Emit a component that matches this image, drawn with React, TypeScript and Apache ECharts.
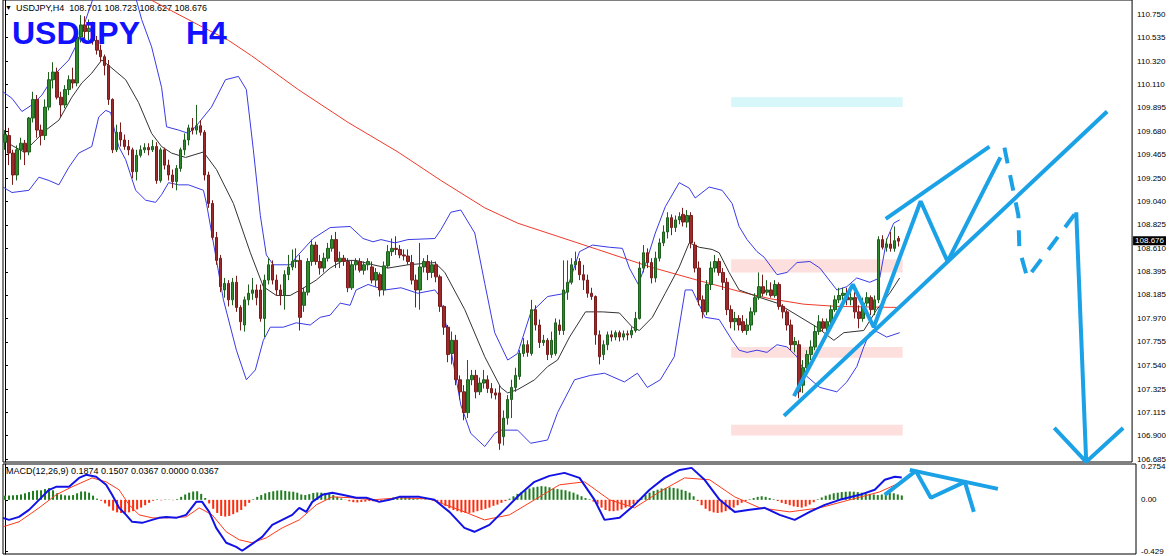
import React, { useEffect, useRef } from "react";
import * as echarts from "echarts";

// ---------- DATA ----------
const symbolName = "USDJPY";
const timeframe = "H4";
// [open, close, low, high]
const candles: number[][] = [
[109.58,109.65,109.51,109.69],[109.64,109.48,109.37,109.71],[109.48,109.28,109.19,109.51],[109.28,109.51,109.23,109.55],
[109.51,109.57,109.42,109.62],[109.57,109.49,109.37,109.60],[109.49,109.80,109.46,109.81],[109.80,109.97,109.76,110.04],
[109.97,109.69,109.62,110.01],[109.69,109.64,109.55,109.74],[109.64,109.90,109.60,109.97],[109.90,110.15,109.87,110.22],
[110.15,110.22,110.07,110.31],[110.22,109.99,109.97,110.26],[109.99,109.92,109.81,110.04],[109.92,110.06,109.89,110.10],
[110.06,110.15,110.01,110.19],[110.15,110.12,110.07,110.26],[110.12,110.54,110.09,110.60],[110.54,110.65,110.49,110.74],
[110.65,110.59,110.53,110.73],[110.59,110.62,110.51,110.70],[110.62,110.51,110.47,110.68],[110.51,110.42,110.38,110.55],
[110.42,110.36,110.31,110.47],[110.36,110.28,110.19,110.38],[110.28,109.97,109.92,110.33],[109.97,109.51,109.48,109.98],
[109.51,109.67,109.49,109.74],[109.67,109.60,109.54,109.76],[109.60,109.54,109.51,109.65],[109.54,109.51,109.46,109.60],
[109.51,109.31,109.25,109.53],[109.31,109.46,109.23,109.51],[109.46,109.51,109.44,109.55],[109.51,109.53,109.48,109.57],
[109.53,109.51,109.46,109.57],[109.51,109.54,109.49,109.60],[109.54,109.23,109.20,109.58],[109.23,109.51,109.21,109.53],
[109.51,109.37,109.33,109.53],[109.37,109.28,109.23,109.42],[109.28,109.22,109.16,109.33],[109.22,109.34,109.14,109.37],
[109.34,109.51,109.31,109.53],[109.51,109.60,109.46,109.66],[109.60,109.71,109.55,109.74],[109.71,109.69,109.65,109.80],
[109.69,109.73,109.65,109.92],[109.73,109.67,109.64,109.78],[109.67,109.28,109.23,109.69],[109.28,109.02,108.98,109.31],
[109.02,108.71,108.69,109.05],[108.71,108.50,108.46,108.76],[108.52,108.26,108.21,108.55],[108.23,108.29,108.16,108.34],
[108.29,108.14,108.08,108.32],[108.14,108.30,108.09,108.34],[108.30,108.07,108.03,108.36],[108.07,107.94,107.86,108.09],
[107.91,108.14,107.85,108.17],[108.14,108.20,108.09,108.28],[108.20,108.23,108.14,108.34],[108.23,108.16,108.09,108.28],
[108.23,107.97,107.94,108.28],[107.97,108.32,107.80,108.37],[108.32,108.46,108.28,108.52],[108.46,108.32,108.28,108.50],
[108.32,108.23,108.18,108.37],[108.23,108.18,108.09,108.28],[108.18,108.37,108.05,108.41],[108.37,108.44,108.32,108.55],
[108.44,108.49,108.41,108.60],[108.49,108.50,108.43,108.61],[108.50,107.98,107.86,108.55],[108.09,108.21,108.03,108.25],
[108.21,108.49,108.18,108.52],[108.49,108.64,108.45,108.69],[108.64,108.49,108.46,108.67],[108.49,108.43,108.37,108.55],
[108.43,108.52,108.39,108.57],[108.52,108.61,108.49,108.66],[108.61,108.69,108.58,108.73],[108.69,108.49,108.43,108.76],
[108.49,108.52,108.43,108.58],[108.52,108.49,108.45,108.55],[108.49,108.25,108.21,108.52],[108.25,108.46,108.23,108.50],
[108.46,108.49,108.41,108.52],[108.49,108.41,108.39,108.52],[108.41,108.46,108.37,108.49],[108.46,108.49,108.41,108.52],
[108.44,108.32,108.29,108.49],[108.32,108.39,108.26,108.43],[108.37,108.23,108.17,108.39],[108.23,108.45,108.18,108.49],
[108.45,108.58,108.43,108.64],[108.58,108.61,108.54,108.70],[108.61,108.60,108.55,108.72],[108.60,108.55,108.52,108.64],
[108.55,108.54,108.50,108.60],[108.54,108.49,108.46,108.60],[108.48,108.32,108.28,108.55],[108.32,108.23,108.07,108.37],
[108.23,108.44,108.05,108.66],[108.44,108.49,108.39,108.52],[108.49,108.39,108.32,108.55],[108.39,108.46,108.34,108.50],
[108.46,108.35,108.30,108.49],[108.35,108.08,108.03,108.37],[108.08,107.89,107.82,108.09],[107.89,107.64,107.57,107.91],
[107.65,107.77,107.55,107.85],[107.77,107.41,107.36,107.82],[107.41,107.30,107.23,107.45],[107.30,107.11,107.04,107.36],
[107.11,107.41,107.06,107.59],[107.41,107.45,107.36,107.50],[107.45,107.30,107.24,107.50],[107.30,107.38,107.27,107.43],
[107.38,107.41,107.33,107.50],[107.41,107.33,107.29,107.45],[107.33,107.29,107.24,107.38],[107.29,107.27,107.23,107.33],
[107.29,106.83,106.77,107.36],[106.89,107.06,106.81,107.13],[107.06,107.23,107.00,107.27],[107.23,107.34,107.06,107.41],
[107.34,107.45,107.30,107.52],[107.44,107.65,107.41,107.68],[107.65,107.73,107.62,107.79],[107.73,107.66,107.62,107.77],
[107.65,108.05,107.63,108.14],[108.05,107.91,107.86,108.09],[107.91,107.75,107.70,107.96],[107.75,107.77,107.72,107.82],
[107.77,107.64,107.59,107.79],[107.64,107.77,107.61,107.85],[107.65,107.93,107.63,107.97],[107.91,107.86,107.82,107.96],
[107.86,108.23,107.82,108.50],[108.21,108.30,108.14,108.50],[108.30,108.46,108.28,108.52],[108.46,108.49,108.41,108.58],
[108.49,108.37,108.32,108.52],[108.37,108.32,108.23,108.46],[108.32,108.20,108.16,108.37],[108.20,108.17,108.14,108.25],
[108.17,107.82,107.73,108.18],[107.82,107.62,107.55,107.86],[107.64,107.73,107.59,107.77],[107.73,107.82,107.68,107.85],
[107.82,107.80,107.76,107.86],[107.80,107.84,107.77,107.86],[107.84,107.80,107.76,107.86],[107.80,107.83,107.77,107.86],
[107.83,107.82,107.77,107.86],[107.82,107.86,107.79,107.89],[107.86,107.97,107.84,108.03],[107.97,108.43,107.96,108.49],
[108.43,108.57,108.39,108.64],[108.57,108.48,108.43,108.61],[108.48,108.34,108.29,108.52],[108.34,108.52,108.30,108.58],
[108.52,108.66,108.49,108.70],[108.66,108.76,108.63,108.82],[108.76,108.89,108.70,108.94],[108.89,108.80,108.73,108.92],
[108.80,108.87,108.76,108.91],[108.87,108.90,108.83,108.94],[108.92,108.85,108.81,108.98],[108.85,108.91,108.80,108.96],
[108.91,108.66,108.61,108.94],[108.64,108.43,108.39,108.67],[108.43,108.14,108.09,108.49],[108.14,108.03,107.97,108.18],
[108.03,108.28,108.00,108.32],[108.28,108.43,108.23,108.49],[108.43,108.49,108.39,108.55],[108.49,108.39,108.36,108.52],
[108.39,108.30,108.23,108.43],[108.30,108.05,108.00,108.34],[108.05,107.94,107.88,108.09],[107.94,107.97,107.86,108.03],
[107.97,107.91,107.86,108.00],[107.94,107.86,107.84,108.00],[107.86,107.91,107.82,107.97],[107.91,108.03,107.86,108.07],
[108.03,108.16,108.00,108.20],[108.16,108.26,108.14,108.39],[108.26,108.20,108.17,108.37],[108.21,108.23,108.18,108.32],
[108.23,108.18,108.16,108.30],[108.18,108.28,108.16,108.32],[108.28,108.08,108.05,108.30],[108.08,108.03,107.97,108.10],
[108.03,107.91,107.86,108.05],[107.91,107.73,107.68,107.96],[107.73,107.76,107.66,107.80],[107.73,107.30,107.24,107.77],
[107.36,107.52,107.29,107.59],[107.52,107.64,107.48,107.68],[107.64,107.71,107.59,107.77],[107.71,107.85,107.68,107.91],
[107.85,107.94,107.82,108.00],[107.94,107.88,107.85,107.97],[107.88,107.94,107.85,107.97],[107.94,108.05,107.91,108.09],
[108.05,108.14,108.03,108.18],[108.14,108.18,108.11,108.25],[108.18,108.20,108.14,108.25],[108.20,108.14,108.09,108.25],
[108.14,108.16,108.09,108.23],[108.16,108.03,107.97,108.21],[108.03,107.97,107.88,108.09],[107.97,108.11,107.94,108.16],
[108.11,108.16,108.08,108.21],[108.16,108.05,108.00,108.18],[108.05,108.14,108.00,108.18],[108.14,108.69,108.11,108.72],
[108.69,108.62,108.60,108.73],[108.62,108.65,108.58,108.70],[108.65,108.61,108.58,108.76],[108.61,108.68,108.58,108.81],
[108.701,108.676,108.627,108.723],
];

// Bollinger bands (20) and moving averages: [bar index, price]
const bbUpper: number[][] = [
[-0.5,110.04],[1.75,109.98],[4.25,109.86],[6.75,109.92],[9.25,110.01],[12.75,110.21],[16,110.33],[18.5,110.51],[20.25,110.70],
[21.5,110.83],[22.75,110.97],[32.25,110.97],[34.25,110.70],[36.75,110.45],[39.25,110.08],[40.5,109.72],[43.5,109.69],[46,109.66],
[47.75,109.72],[51.75,109.90],[55.25,110.15],[58.5,110.18],[60.5,110.06],[62.25,109.51],[64,108.91],[65.5,108.55],[67.25,108.46],
[71.5,108.46],[73,108.53],[77.25,108.70],[81.5,108.80],[86.5,108.81],[89.75,108.70],[92.25,108.67],[94.25,108.69],[97.75,108.66],
[101,108.69],[107.75,108.70],[109.25,108.78],[111.75,108.94],[114.25,108.96],[117.75,108.75],[120.25,108.29],[122.75,107.84],
[126,107.59],[128.5,107.65],[131.75,108.02],[136,108.17],[140.5,108.20],[144,108.58],[147.25,108.64],[151.5,108.62],[154.75,108.61],
[156.5,108.43],[158.75,108.28],[160.5,108.46],[163,108.75],[165.5,108.99],[169,109.21],[171.5,109.16],[173,109.07],[176.5,109.17],
[179.75,109.14],[182.25,109.02],[184,108.81],[186,108.69],[188.5,108.58],[190.25,108.53],[193.5,108.37],[196,108.39],[198.5,108.48],
[201.75,108.49],[204.25,108.43],[208.5,108.23],[211,108.26],[213.5,108.34],[216.75,108.30],[219.25,108.34],[221,108.69],
[222.75,108.84],[224.25,108.87],
];
const bbLower: number[][] = [
[-0.5,109.17],[1.75,109.12],[6,109.14],[8.5,109.26],[11,109.23],[13.5,109.19],[16,109.35],[18.5,109.48],[21.75,109.54],[23.5,109.81],
[25.25,109.87],[26.5,109.85],[27.25,109.72],[28.5,109.54],[30.25,109.42],[32.75,109.14],[35.25,109.05],[37.75,109.03],[39.25,109.10],
[41,109.21],[43.5,109.19],[46,109.19],[49.75,109.14],[50.5,109.02],[54.75,108.14],[58,107.68],[60.5,107.41],[62.75,107.50],
[64.75,107.77],[66.5,107.89],[69.75,107.89],[73,107.93],[76.5,107.91],[79,107.98],[81.5,108.00],[84,108.11],[86.5,108.09],
[88,108.23],[91,108.28],[95.25,108.23],[99.25,108.25],[103.5,108.20],[107.75,108.23],[109,108.17],[111,107.84],[114.25,107.18],
[116.75,106.92],[120.25,106.80],[122.75,106.92],[124.25,106.95],[128.5,106.95],[131.75,106.83],[136,106.86],[138.5,107.11],
[142.75,107.41],[146.75,107.45],[150.25,107.47],[155.25,107.39],[158.5,107.47],[161,107.34],[164.25,107.41],[167.75,107.62],
[170.5,108.23],[172.25,108.23],[175.5,107.98],[179,107.96],[182.25,107.77],[184,107.68],[186,107.66],[188.5,107.68],[191,107.66],
[193.5,107.73],[196,107.71],[198.5,107.62],[201,107.44],[204.25,107.34],[208.5,107.30],[211,107.39],[213.5,107.53],[215.25,107.71],
[216.75,107.84],[218.5,107.85],[221,107.80],[224.25,107.84],
];
const bbMiddle: number[][] = [
[-0.5,109.60],[1.75,109.55],[4.75,109.49],[7.75,109.60],[10.25,109.69],[13.5,109.78],[16.75,109.99],[19.25,110.12],[21.75,110.21],
[24.25,110.33],[26,110.28],[30.25,110.15],[33.5,109.94],[36.75,109.66],[39.25,109.54],[41.75,109.48],[45.25,109.44],[49.75,109.49],
[53,109.33],[57.25,109.02],[61.5,108.57],[64.75,108.26],[68,108.18],[71.5,108.18],[74,108.23],[78,108.32],[81.5,108.43],
[84.75,108.50],[88,108.50],[92.25,108.46],[96,108.43],[101,108.46],[107.75,108.48],[110.25,108.39],[115.25,108.05],[120.25,107.62],
[124.25,107.34],[126,107.29],[128.5,107.32],[132.75,107.41],[136,107.53],[138.5,107.59],[141.5,107.80],[145.5,108.03],[149.75,108.03],
[154,108.02],[157.25,107.89],[159,107.86],[162.25,107.98],[165.5,108.20],[169,108.44],[171.5,108.66],[174,108.62],[177.25,108.60],
[179,108.57],[181.5,108.39],[184,108.23],[188.5,108.17],[193.5,108.11],[198.5,108.00],[203.5,107.89],[207.75,107.77],[210.25,107.84],
[215.25,107.86],[218.5,108.05],[221.75,108.20],[224.25,108.34],
];
const maLong: number[][] = [
[33.5,110.92],[36.5,110.88],[48.5,110.65],[56,110.51],[61.75,110.37],[73.5,110.06],[86,109.76],[98.5,109.49],[109.25,109.23],
[120.25,108.98],[128.5,108.84],[138.5,108.72],[148.5,108.60],[161.75,108.44],[173.5,108.32],[184.75,108.21],[191.75,108.15],
[200.25,108.10],[208.5,108.08],[224.25,108.07],
];

// MACD(12,26,9)
const macdHist: number[] = [
0.035,0.036,0.038,0.040,0.045,0.055,0.065,0.075,0.080,0.080,0.090,0.098,0.080,0.055,0.045,0.038,0.036,0.040,
0.055,0.070,0.070,0.060,0.035,0.010,
-0.008,-0.030,-0.055,-0.090,-0.105,-0.110,-0.110,-0.105,-0.095,-0.080,-0.065,-0.045,-0.025,-0.008,
0.004,-0.004,0.003,0.002,-0.003,0.006,
0.025,0.045,0.060,0.070,0.072,0.050,0.015,
-0.030,-0.075,-0.110,-0.135,-0.140,-0.135,-0.120,-0.105,-0.085,-0.055,-0.025,
0.005,0.025,0.040,0.055,0.065,0.072,0.078,0.080,0.075,0.070,0.068,0.060,0.045,0.040,0.048,0.058,0.062,0.060,0.058,0.050,0.040,0.025,0.012,0.002,
-0.012,-0.020,-0.022,-0.018,-0.015,-0.010,-0.012,-0.008,-0.010,
0.004,0.012,0.020,0.025,0.028,
0.025,0.020,0.012,0.005,0.002,0.005,0.002,
-0.005,-0.015,-0.030,-0.050,-0.070,-0.085,-0.095,-0.105,-0.110,-0.110,-0.105,-0.095,-0.085,-0.075,-0.065,-0.050,-0.040,-0.025,-0.010,
0.010,0.030,0.050,0.065,0.080,0.095,0.105,0.110,0.115,0.112,0.105,0.095,0.090,0.085,0.080,0.070,0.060,0.045,0.030,0.015,0.005,
-0.015,-0.040,-0.065,-0.085,-0.095,-0.095,-0.090,-0.080,-0.065,-0.050,-0.035,-0.015,
0.015,0.040,0.060,0.075,0.085,0.095,0.100,0.105,0.100,0.095,0.085,0.075,0.060,
0.030,-0.010,-0.045,-0.075,-0.095,-0.105,-0.110,-0.105,-0.095,-0.080,-0.065,-0.045,-0.025,
-0.010,0.005,0.015,0.025,0.030,0.025,0.015,0.005,
-0.010,-0.025,-0.035,-0.045,-0.055,-0.060,-0.065,-0.055,-0.040,-0.020,
0.005,0.020,0.035,0.045,0.055,0.060,0.065,0.068,0.070,0.068,0.065,0.060,0.055,0.050,0.045,0.040,0.045,0.055,0.060,0.055,0.045,0.0367,
];
const macdMain: number[][] = [
[-0.5,-0.151],[1,-0.168],[3.5,-0.143],[6,-0.084],[8.5,0],[11,0.084],[12.75,0.109],[16,0.109],[18.5,0.184],[20.25,0.210],
[22.75,0.193],[25.25,0.126],[26.75,0.042],[28.5,-0.067],[30.25,-0.126],[31.75,-0.184],[34.25,-0.193],[36.75,-0.168],[38.5,-0.151],
[40.25,-0.143],[42.75,-0.151],[45.25,-0.126],[47.75,-0.017],[49.25,-0.017],[51,-0.101],[52.75,-0.235],[55.25,-0.360],[57.75,-0.394],
[59.25,-0.427],[61.75,-0.369],[64.25,-0.310],[66.75,-0.210],[69.25,-0.168],[71.75,-0.126],[73.5,-0.067],[75.25,-0.101],[76.75,-0.017],
[79.25,0.042],[81.75,0.059],[84.25,0.042],[87.75,0.017],[90.25,0.017],[93.5,-0.017],[96,0],[98.5,0.025],[103.5,0.025],[107.25,0],
[111,-0.101],[114.75,-0.235],[117.25,-0.268],[121,-0.210],[124.75,-0.084],[128.5,0.042],[132.25,0.151],[136,0.201],[139.75,0.226],
[143.5,0.184],[147.25,0],[149.75,-0.168],[153.5,-0.151],[157.25,-0.042],[161,0.084],[164.75,0.184],[168.5,0.251],[171.5,0.268],
[174.75,0.168],[178.5,0],[182.25,-0.101],[186,-0.084],[189.75,-0.067],[193.5,-0.126],[197.25,-0.168],[201,-0.101],[204.75,-0.042],
[208.5,0],[213.5,0.042],[217.25,0.084],[219.75,0.168],[222.25,0.193],[224,0.1874],
];
const macdSignal: number[][] = [
[-0.5,-0.226],[3.5,-0.184],[8.5,-0.067],[12.75,0.042],[16.75,0.109],[21.75,0.184],[25.25,0.151],[28.5,0.084],[31,-0.042],
[33.5,-0.126],[36.75,-0.151],[40.25,-0.151],[45.25,-0.143],[48.5,-0.067],[51.75,-0.126],[55.25,-0.268],[58.5,-0.335],[61.75,-0.360],
[65.25,-0.319],[69.25,-0.235],[73.5,-0.168],[77.75,-0.042],[81.75,0.025],[86.75,0.017],[91.75,0],[98.5,0.017],[106,0.008],
[113.5,-0.084],[119.75,-0.168],[126,-0.126],[132.25,0],[138.5,0.126],[144.75,0.151],[151,0],[157.25,-0.067],[163.5,0.067],
[169.75,0.184],[176,0.168],[182.25,0.025],[188.5,-0.067],[196,-0.101],[203.5,-0.067],[211,0],[218.5,0.067],[224,0.1507],
];

// axis ticks as printed by the terminal
const priceTicks = [110.750,110.535,110.320,110.110,109.895,109.680,109.465,109.250,109.040,108.825,108.610,108.395,108.185,107.970,107.755,107.540,107.325,107.115,106.900,106.685];
const macdTicks = [0.2754, 0, -0.429];
const macdTickText = ["0.2754", "0.00", "-0.429"];

// drawn zones: [fromBar, toBar, topPrice, bottomPrice]
const cyanZones: number[][] = [[182, 225, 109.99, 109.90]];
const pinkZones: number[][] = [[182, 225, 108.51, 108.39], [182, 225, 107.71, 107.61], [182, 225, 107.00, 106.90]];

// hand-drawn annotations: [bar index, price] / [bar index, macd]
const trendLower: number[][] = [[195.25, 107.08], [276.25, 109.86]];
const trendUpper: number[][] = [[220.75, 108.88], [246.75, 109.54]];
const zigzag: number[][] = [[197.75, 107.26], [212.5, 108.28], [217.75, 107.89], [229.5, 109.04], [236.25, 108.49], [249.5, 109.44]];
const dashedDown: number[][] = [[250.5, 109.53], [254, 108.91], [254.25, 108.60], [256.25, 108.34], [268.5, 108.94]];
const arrowShaft: number[][] = [[268.5, 108.94], [271, 106.66]];
const arrowHead: number[][] = [[263, 106.97], [271, 106.66], [280.25, 106.97]];
const macdZigzag: number[][] = [[219.75, 0.042], [227.5, 0.243], [231.25, 0.017], [239.75, 0.151], [242, -0.101]];
const macdTrend: number[][] = [[226, 0.251], [248, 0.092]];

const shiftBars = 58;

export default function App() {
  const ref = useRef<HTMLDivElement>(null);
  useEffect(() => {
    document.body.style.margin = "0";
    const chart = echarts.init(ref.current!, undefined, { renderer: "svg" });
    const slots = candles.length + shiftBars;
    const cats = Array.from({ length: slots }, (_, i) => String(i));
    const last = candles[candles.length - 1];
    const font = "'Liberation Sans', Arial, sans-serif";
    const annColor = "#1ba1e6";
    const lineS = (data: number[][], xi: number, yi: number, color: string, width: number, type: any = "solid", z = 3) => ({
      type: "line", data, xAxisIndex: xi, yAxisIndex: yi, symbol: "none", silent: true, z,
      lineStyle: { color, width, type }, clip: true,
    });
    const zoneData = (zs: number[][], color: string) =>
      zs.map((z) => [{ xAxis: z[0], yAxis: z[2], itemStyle: { color } }, { xAxis: z[1], yAxis: z[3] }]);
    const header = `${symbolName},${timeframe}  ${last[0].toFixed(3)} ${last[3].toFixed(3)} ${last[2].toFixed(3)} ${last[1].toFixed(3)}`;
    const mm = macdMain[macdMain.length - 1][1];
    const ms = macdSignal[macdSignal.length - 1][1];
    const mh = macdHist[macdHist.length - 1];
    const macdHeader = `MACD(12,26,9) ${mm.toFixed(4)} ${ms.toFixed(4)} ${mh.toFixed(4)} 0.0000 ${mh.toFixed(4)}`;

    chart.setOption({
      animation: false,
      backgroundColor: "#ffffff",
      textStyle: { fontFamily: font },
      grid: [
        { left: 3, right: 33, top: 0, height: 462, show: true, borderColor: "#000", borderWidth: 1, backgroundColor: "transparent" },
        { left: 3, right: 33, top: 464, height: 90, show: true, borderColor: "#000", borderWidth: 1, backgroundColor: "transparent" },
      ],
      xAxis: [
        { type: "category", gridIndex: 0, data: cats, show: false, boundaryGap: true },
        { type: "value", gridIndex: 0, min: -0.5, max: slots - 0.5, show: false },
        { type: "category", gridIndex: 1, data: cats, show: false, boundaryGap: true },
        { type: "value", gridIndex: 1, min: -0.5, max: slots - 0.5, show: false },
      ],
      yAxis: [
        {
          type: "value", gridIndex: 0, position: "right", min: 106.659, max: 110.878,
          splitLine: { show: false },
          axisLine: { show: true, lineStyle: { color: "#000" } },
          axisTick: { show: true, customValues: priceTicks, length: 3, lineStyle: { color: "#000" } },
          axisLabel: { customValues: priceTicks, formatter: (v: number) => v.toFixed(3), fontSize: 8, color: "#000", margin: 5, fontFamily: font },
        },
        {
          type: "value", gridIndex: 1, position: "right", min: -0.4541, max: 0.3005,
          splitLine: { show: false },
          axisLine: { show: true, lineStyle: { color: "#000" } },
          axisTick: { show: true, customValues: macdTicks, length: 3, lineStyle: { color: "#000" } },
          axisLabel: {
            customValues: macdTicks, fontSize: 8, color: "#000", margin: 5, fontFamily: font,
            formatter: (v: number) => { const k = macdTicks.findIndex((t) => Math.abs(t - v) < 1e-6); return k >= 0 ? macdTickText[k] : ""; },
          },
        },
      ],
      graphic: [
        { type: "text", left: 5, top: 4, style: { text: "▼", fontSize: 7, fill: "#000", fontFamily: font } },
        { type: "text", left: 16, top: 3, style: { text: header, fontSize: 9, fill: "#000", fontFamily: font } },
        { type: "text", left: 12, top: 17, z: 100, style: { text: symbolName, fontSize: 32, fontWeight: "bold", fill: "#1111ff", fontFamily: font } },
        { type: "text", left: 186, top: 17, z: 100, style: { text: timeframe, fontSize: 32, fontWeight: "bold", fill: "#1111ff", fontFamily: font } },
        { type: "text", left: 6, top: 466, z: 100, style: { text: macdHeader, fontSize: 9, fill: "#000", fontFamily: font } },
      ],
      series: [
        {
          type: "candlestick", xAxisIndex: 0, yAxisIndex: 0, data: candles, barWidth: 3, z: 4,
          itemStyle: { color: "#2c8a2c", color0: "#9c2a2a", borderColor: "#1d5f1d", borderColor0: "#7a1c1c", borderWidth: 1 },
          markArea: { silent: true, z: 1, data: [...zoneData(cyanZones, "#d8f7fb"), ...zoneData(pinkZones, "#fde0de")] },
          markLine: {
            silent: true, symbol: ["none", "none"],
            lineStyle: { color: "rgba(0,0,0,0)", width: 0 },
            label: { show: true, position: "end", formatter: last[1].toFixed(3), backgroundColor: "#000", color: "#fff", fontSize: 8, padding: [1, 2, 0, 2], distance: 1, fontFamily: font },
            data: [{ yAxis: last[1] }],
          },
        },
        lineS(maLong, 1, 0, "#f03a2a", 1),
        lineS(bbUpper, 1, 0, "#3a3ae6", 1),
        lineS(bbLower, 1, 0, "#3a3ae6", 1),
        lineS(bbMiddle, 1, 0, "#333333", 1),
        lineS(trendLower, 1, 0, annColor, 4, "solid", 10),
        lineS(trendUpper, 1, 0, annColor, 4, "solid", 10),
        lineS(zigzag, 1, 0, annColor, 4, "solid", 10),
        lineS(dashedDown, 1, 0, annColor, 4, [16, 12], 10),
        lineS(arrowShaft, 1, 0, annColor, 4, "solid", 10),
        lineS(arrowHead, 1, 0, annColor, 4, "solid", 10),
        {
          type: "bar", xAxisIndex: 2, yAxisIndex: 1, data: macdHist, barWidth: 2, silent: true,
          itemStyle: { color: (p: any) => (p.value >= 0 ? "#1f7d1f" : "#ff2a0a") },
        },
        lineS(macdSignal, 3, 1, "#ff3a1a", 1),
        lineS(macdMain, 3, 1, "#1212e6", 2),
        lineS(macdZigzag, 3, 1, annColor, 4, "solid", 10),
        lineS(macdTrend, 3, 1, annColor, 4, "solid", 10),
      ],
    });
    return () => chart.dispose();
  }, []);
  return <div ref={ref} style={{ width: 1169, height: 556 }} />;
}
